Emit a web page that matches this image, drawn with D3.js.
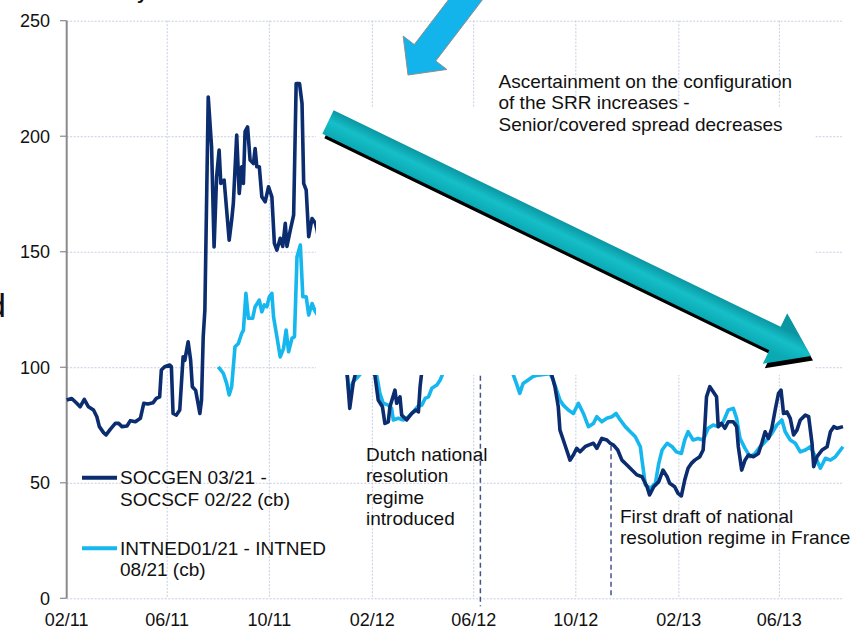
<!DOCTYPE html>
<html>
<head>
<meta charset="utf-8">
<script src="https://cdn.jsdelivr.net/npm/d3@7/dist/d3.min.js"></script>
<style>
  body { margin: 0; background: #fff; }
  svg { display: block; font-family: "Liberation Sans", Arial, sans-serif; }
</style>
</head>
<body>
<svg id="chart" width="850" height="629"></svg>
<script>
// SOCGEN 03/21 - SOCSCF 02/22 (cb), spread in bp
const socgenDates = ["2011-02-01","2011-02-07","2011-02-13","2011-02-17","2011-02-22","2011-02-27","2011-03-05","2011-03-09","2011-03-12","2011-03-17","2011-03-20","2011-03-25","2011-03-31","2011-04-04","2011-04-08","2011-04-14","2011-04-18","2011-04-24","2011-04-30","2011-05-04","2011-05-09","2011-05-15","2011-05-19","2011-05-23","2011-05-25","2011-05-29","2011-06-04","2011-06-06","2011-06-08","2011-06-12","2011-06-16","2011-06-20","2011-06-22","2011-06-26","2011-06-29","2011-07-01","2011-07-05","2011-07-10","2011-07-12","2011-07-14","2011-07-16","2011-07-20","2011-07-24","2011-07-27","2011-07-30","2011-08-02","2011-08-04","2011-08-08","2011-08-11","2011-08-14","2011-08-17","2011-08-19","2011-08-23","2011-08-26","2011-08-29","2011-08-31","2011-09-02","2011-09-05","2011-09-08","2011-09-12","2011-09-14","2011-09-16","2011-09-19","2011-09-22","2011-09-26","2011-09-30","2011-10-04","2011-10-07","2011-10-10","2011-10-14","2011-10-17","2011-10-20","2011-10-22","2011-10-26","2011-10-30","2011-11-02","2011-11-06","2011-11-09","2011-11-11","2011-11-14","2011-11-17","2011-11-21","2011-11-25","2011-11-27","2011-12-01","2011-12-13","2011-12-24","2011-12-30","2012-01-02","2012-01-05","2012-01-09","2012-01-13","2012-01-23","2012-02-04","2012-02-08","2012-02-13","2012-02-16","2012-02-20","2012-02-22","2012-02-28","2012-03-01","2012-03-05","2012-03-07","2012-03-13","2012-03-19","2012-03-24","2012-03-27","2012-03-29","2012-03-31","2012-04-22","2012-05-28","2012-07-03","2012-08-07","2012-08-29","2012-09-02","2012-09-06","2012-09-10","2012-09-12","2012-09-16","2012-09-20","2012-09-24","2012-09-28","2012-10-02","2012-10-06","2012-10-12","2012-10-16","2012-10-22","2012-10-26","2012-11-01","2012-11-07","2012-11-11","2012-11-15","2012-11-20","2012-11-25","2012-12-01","2012-12-07","2012-12-13","2012-12-19","2012-12-25","2012-12-28","2013-01-02","2013-01-08","2013-01-13","2013-01-18","2013-01-21","2013-01-27","2013-01-31","2013-02-04","2013-02-08","2013-02-12","2013-02-16","2013-02-20","2013-02-26","2013-03-02","2013-03-04","2013-03-06","2013-03-10","2013-03-14","2013-03-18","2013-03-20","2013-03-24","2013-03-28","2013-04-01","2013-04-07","2013-04-11","2013-04-13","2013-04-17","2013-04-21","2013-04-25","2013-05-01","2013-05-07","2013-05-11","2013-05-15","2013-05-19","2013-05-23","2013-05-27","2013-05-31","2013-06-03","2013-06-06","2013-06-10","2013-06-14","2013-06-18","2013-06-22","2013-06-26","2013-07-02","2013-07-06","2013-07-10","2013-07-12","2013-07-16","2013-07-22","2013-07-28","2013-08-01","2013-08-05","2013-08-09","2013-08-16"];
const socgenValues = [85.8,86.5,84.4,82.9,86.1,82.9,81.5,78.6,74.3,71.7,70.7,73.1,75.7,75.7,74.3,74.6,76.9,76.4,77.9,84.4,84.1,84.6,86.5,87.2,98.8,100.2,101,100.2,80,79.3,81.5,104.5,103,111,103,91.6,90,80,85.8,113,124.7,217,195.4,152.1,182.4,194,179.6,181,168,155,163.7,171,200.5,175.2,186.8,179.6,202,204,189.7,188.2,194.7,186.8,186.8,173.8,171.6,178.1,173.8,153.6,150.7,155.8,152.3,162.3,152.3,159.4,165.9,222.8,222.8,214.2,179.6,176.7,156.5,164.4,162.3,159.4,150,130,110,100,96.6,82.2,93,99,104,96.6,85.8,82.9,75.7,76.4,82.9,90.1,84.4,87.2,79.3,77.2,80,81.5,80.7,91.6,98,108,115,105,102,100,97,91.6,82.9,72.8,68.5,64.2,59.8,62,64.9,63.4,65.6,66.3,67.1,64.9,69.2,68.5,67.1,66.3,64.2,59.8,57.7,55.5,53.4,52.6,48.3,44.7,48.3,50.5,55.5,52.6,49.8,48.3,45.4,44.3,51.2,56.3,58.4,59.8,61.3,64.2,74.3,87.2,91.6,89.4,87.2,74.3,75.7,73.6,76.4,76.4,74.3,65.6,55.5,59.8,62,61.3,62.7,67.1,72.1,69.2,73.6,81.5,88.7,90.1,80,80.7,77.9,70.7,72.8,77.2,79.3,78.6,67.1,57,61.3,64.2,65.6,72.1,74.3,73.6,74.3];

// INTNED01/21 - INTNED 08/21 (cb)
const intnedDates = ["2011-08-01","2011-08-07","2011-08-11","2011-08-14","2011-08-17","2011-08-21","2011-08-25","2011-08-29","2011-08-31","2011-09-03","2011-09-06","2011-09-11","2011-09-14","2011-09-19","2011-09-22","2011-09-25","2011-09-28","2011-10-01","2011-10-04","2011-10-06","2011-10-10","2011-10-14","2011-10-18","2011-10-21","2011-10-24","2011-10-28","2011-10-31","2011-11-03","2011-11-07","2011-11-10","2011-11-14","2011-11-17","2011-11-21","2011-11-25","2011-11-27","2011-12-05","2011-12-20","2011-12-30","2012-01-02","2012-01-04","2012-01-09","2012-01-15","2012-01-24","2012-02-06","2012-02-10","2012-02-14","2012-02-20","2012-02-24","2012-02-26","2012-03-03","2012-03-09","2012-03-15","2012-03-21","2012-03-26","2012-03-31","2012-04-04","2012-04-08","2012-04-12","2012-04-18","2012-04-22","2012-04-26","2012-05-10","2012-06-10","2012-07-05","2012-07-18","2012-07-22","2012-07-26","2012-07-30","2012-08-05","2012-08-11","2012-08-17","2012-08-31","2012-09-04","2012-09-08","2012-09-12","2012-09-16","2012-09-22","2012-09-28","2012-10-04","2012-10-10","2012-10-16","2012-10-22","2012-10-26","2012-11-01","2012-11-07","2012-11-13","2012-11-18","2012-11-23","2012-11-29","2012-12-05","2012-12-11","2012-12-17","2012-12-19","2012-12-23","2012-12-29","2013-01-04","2013-01-08","2013-01-12","2013-01-18","2013-01-24","2013-01-29","2013-02-04","2013-02-08","2013-02-12","2013-02-18","2013-02-24","2013-03-02","2013-03-08","2013-03-14","2013-03-20","2013-03-26","2013-04-01","2013-04-07","2013-04-11","2013-04-15","2013-04-21","2013-04-27","2013-05-03","2013-05-09","2013-05-17","2013-05-23","2013-05-29","2013-06-04","2013-06-08","2013-06-14","2013-06-20","2013-06-26","2013-07-02","2013-07-08","2013-07-14","2013-07-20","2013-07-26","2013-08-01","2013-08-07","2013-08-13","2013-08-16"];
const intnedValues = [100.2,97.4,93,88,91.6,108.9,110.3,114.7,116,132,121.2,121.2,126.2,129.1,124,127,126.2,130.5,132,121.8,113.2,104.5,108.2,116.1,106.7,112.5,113.2,147.8,152.9,130.5,130.5,122.6,127.6,124,123,115,105,99,96.6,89.4,93.7,95.9,100,97,88.7,84.4,83.6,82.2,77.2,77.9,77.2,78.6,80.7,82.9,83.6,86.5,87.2,90.9,92.3,94.5,98,104,108,101,97,93,88.7,93,94.5,96,96.6,97.2,94.5,90.1,85.8,83.6,81.5,80,84.4,80,74.3,75.7,78.6,76.4,77.9,78.6,80,77.2,74.3,72.1,69.9,65.6,59.8,49,47.6,49.8,58.4,64.2,67.1,65.6,63.4,62.7,68.5,72.1,68.5,69.2,68.5,73.6,75,74.3,76.4,81.5,82.2,77.9,69.2,64.9,61.3,62.7,65.6,68.5,71.4,75,77.2,72.1,68.5,67.1,63.4,64.2,65.6,61.3,56.3,60.6,59.8,61.3,64.2,65.6];

const seriesNames = [["SOCGEN 03/21 -", "SOCSCF 02/22 (cb)"], ["INTNED01/21 - INTNED", "08/21 (cb)"]];
const seriesColors = ["#0b2c6f", "#15b7ee"];

const xTicks = ["2011-02-01","2011-06-01","2011-10-01","2012-02-01","2012-06-01","2012-10-01","2013-02-01","2013-06-01"];
const yTicks = [0, 50, 100, 150, 200, 250];

// event markers: date, top value of the dashed drop line
const eventDates = ["2012-06-09", "2012-11-12"];
const eventTops = [100, 66];

const parse = d3.timeParse("%Y-%m-%d");
const fmt = d3.timeFormat("%m/%y");

const svg = d3.select("#chart");
const x = d3.scaleTime()
  .domain([parse("2011-02-01"), parse("2013-08-16")])
  .range([66.7, 843]);
const y = d3.scaleLinear().domain([0, 250]).range([598.3, 20.7]);

// grid
const grid = svg.append("g").attr("id", "grid")
  .attr("stroke", "#c6cde2").attr("stroke-width", 1).attr("stroke-dasharray", "2,1.5");
grid.selectAll("line.h").data(yTicks).join("line").attr("class", "h")
  .attr("x1", x.range()[0]).attr("x2", 842)
  .attr("y1", d => y(d) + 0.5).attr("y2", d => y(d) + 0.5);
grid.selectAll("line.v").data(xTicks.slice(1)).join("line").attr("class", "v")
  .attr("x1", d => x(parse(d))).attr("x2", d => x(parse(d)))
  .attr("y1", y(250)).attr("y2", y(0));

// y axis
const yAxis = svg.append("g").attr("id", "axis-v");
yAxis.append("line")
  .attr("x1", 66.7).attr("x2", 66.7).attr("y1", y(250)).attr("y2", y(0))
  .attr("stroke", "#8a8a8a").attr("stroke-width", 2);
yAxis.selectAll("line.tick").data(yTicks).join("line").attr("class", "tick")
  .attr("x1", 60).attr("x2", 66.7)
  .attr("y1", d => y(d)).attr("y2", d => y(d))
  .attr("stroke", "#8a8a8a").attr("stroke-width", 1.2);
yAxis.selectAll("text").data(yTicks).join("text")
  .attr("x", 50).attr("y", d => y(d) + 6.5)
  .attr("text-anchor", "end").attr("font-size", 18).attr("fill", "#111")
  .text(d => d);

// x tick labels
svg.append("g").attr("id", "ticks-h")
  .selectAll("text").data(xTicks).join("text")
  .attr("x", d => x(parse(d))).attr("y", 626)
  .attr("text-anchor", "middle").attr("font-size", 18).attr("fill", "#111")
  .text(d => fmt(parse(d)));

// event drop lines
svg.append("g").attr("id", "events")
  .selectAll("line").data(eventDates).join("line")
  .attr("x1", d => x(parse(d))).attr("x2", d => x(parse(d)))
  .attr("y1", (d, i) => y(eventTops[i]))
  .attr("y2", (d, i) => i === 0 ? y(0) + 8 : y(0))
  .attr("stroke", "#43558a").attr("stroke-width", 1.5).attr("stroke-dasharray", "5,3.5");

// data lines
const line = d3.line().x(d => x(d[0])).y(d => y(d[1]));
const series = [
  socgenDates.map((d, i) => [parse(d), socgenValues[i]]),
  intnedDates.map((d, i) => [parse(d), intnedValues[i]])
];
svg.append("g").attr("id", "data-lines")
  .selectAll("path").data([series[1], series[0]]).join("path")
  .attr("d", line)
  .attr("fill", "none")
  .attr("stroke", (d, i) => i === 0 ? seriesColors[1] : seriesColors[0])
  .attr("stroke-width", 3.6)
  .attr("stroke-linejoin", "round");

// white text box pasted over the chart
svg.append("rect")
  .attr("x", 316).attr("y", 107).attr("width", 499).attr("height", 268)
  .attr("fill", "#fff");

svg.append("g").attr("id", "note-top")
  .selectAll("text")
  .data(["Ascertainment on the configuration", "of the SRR increases -", "Senior/covered spread decreases"])
  .join("text")
  .attr("x", 498.5).attr("y", (d, i) => 87.5 + i * 21.7)
  .attr("font-size", 19).attr("fill", "#111").text(d => d);

// arrows
function arrowPoints(tail, tip, shaftW, headW, headL) {
  const dx = tip[0] - tail[0], dy = tip[1] - tail[1], L = Math.hypot(dx, dy);
  const ux = dx / L, uy = dy / L, px = -uy, py = ux;
  const bx = tip[0] - ux * headL, by = tip[1] - uy * headL;
  const s = shaftW / 2;
  return [
    [tail[0] + px * s, tail[1] + py * s],
    [bx + px * s, by + py * s],
    [bx + px * headW, by + py * headW],
    tip,
    [bx - px * headW, by - py * headW],
    [bx - px * s, by - py * s],
    [tail[0] - px * s, tail[1] - py * s]
  ];
}
const poly = pts => "M" + pts.map(p => p.join(",")).join("L") + "Z";

const defs = svg.append("defs");
const bigTail = [328, 122], bigTip = [811, 356];
{
  const dx = bigTip[0] - bigTail[0], dy = bigTip[1] - bigTail[1], L = Math.hypot(dx, dy);
  const px = -dy / L, py = dx / L;
  const g = defs.append("linearGradient").attr("id", "teal")
    .attr("gradientUnits", "userSpaceOnUse")
    .attr("x1", bigTail[0] - px * 13).attr("y1", bigTail[1] - py * 13)
    .attr("x2", bigTail[0] + px * 13).attr("y2", bigTail[1] + py * 13);
  g.append("stop").attr("offset", 0).attr("stop-color", "#0a97a3");
  g.append("stop").attr("offset", 0.45).attr("stop-color", "#16bfc8");
  g.append("stop").attr("offset", 1).attr("stop-color", "#0aaab4");
}
const bigPts = arrowPoints(bigTail, bigTip, 26, 28, 40);
svg.append("path").attr("d", poly(bigPts))
  .attr("transform", "translate(2,4.5)").attr("fill", "#000");
svg.append("path").attr("d", poly(bigPts)).attr("fill", "url(#teal)");

svg.append("path").attr("d", poly(arrowPoints([476, -14], [408, 75], 27, 27.5, 28)))
  .attr("fill", "#13b3ec").attr("stroke", "#8e8e8e").attr("stroke-width", 1);

// legend
const legend = svg.append("g").attr("id", "legend");
const legendY = [477.7, 548.3];
seriesNames.forEach((names, i) => {
  legend.append("line")
    .attr("x1", 82).attr("x2", 117).attr("y1", legendY[i]).attr("y2", legendY[i])
    .attr("stroke", seriesColors[i]).attr("stroke-width", 4);
  legend.append("g").selectAll("text").data(names).join("text")
    .attr("x", 120).attr("y", (d, j) => legendY[i] + 6.5 + j * 21.3)
    .attr("font-size", 19).attr("fill", "#111").text(d => d);
});

// annotations
svg.append("g").selectAll("text")
  .data(["Dutch national", "resolution", "regime", "introduced"]).join("text")
  .attr("x", 366).attr("y", (d, i) => 460.7 + i * 21.4)
  .attr("font-size", 19).attr("fill", "#111").text(d => d);
svg.append("g").selectAll("text")
  .data(["First draft of national", "resolution regime in France"]).join("text")
  .attr("x", 620).attr("y", (d, i) => 522.7 + i * 20.8)
  .attr("font-size", 19).attr("fill", "#111").text(d => d);

// fragments of slide text cut by the crop
svg.append("text").attr("x", 6).attr("y", 317).attr("text-anchor", "end")
  .attr("font-size", 34).attr("fill", "#111").text("d");
svg.append("text").attr("x", 137).attr("y", -1)
  .attr("font-size", 19).attr("font-weight", "bold").attr("fill", "#111").text("y");
</script>
</body>
</html>
